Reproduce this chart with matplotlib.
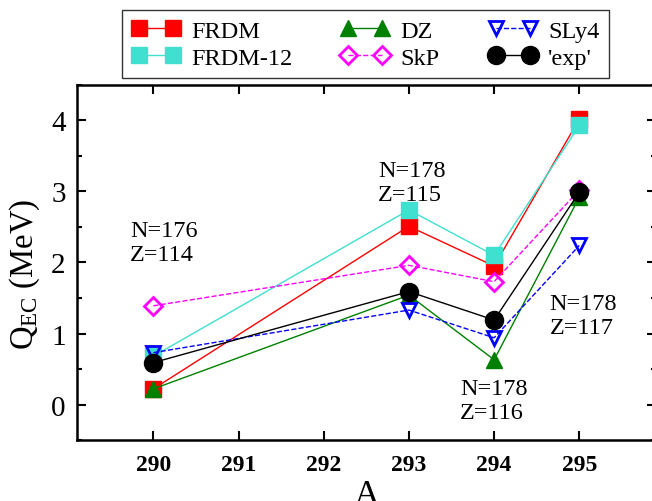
import matplotlib
matplotlib.use("Agg")
import matplotlib.pyplot as plt
from matplotlib.ticker import MultipleLocator

# ------------------------------------------------------------
# data
# ------------------------------------------------------------
mass_A = [290, 293, 294, 295]

q_frdm = [0.22, 2.51, 1.95, 4.02]
q_frdm12 = [0.68, 2.74, 2.10, 3.93]
q_dz = [0.22, 1.54, 0.63, 2.92]
q_skp = [1.39, 1.96, 1.73, 3.02]
q_sly4 = [0.73, 1.33, 0.94, 2.24]
q_exp = [0.59, 1.59, 1.19, 2.99]

x_ticks = [290, 291, 292, 293, 294, 295]
y_ticks = [0, 1, 2, 3, 4]

notes = ["N=176\nZ=114", "N=178\nZ=115", "N=178\nZ=116", "N=178\nZ=117"]
note_xy = [(289.73, 2.60), (292.64, 3.45), (293.6, 0.38), (294.65, 1.57)]

# ------------------------------------------------------------
# style
# ------------------------------------------------------------
plt.rcParams.update({
    'font.family': ['Liberation Serif', 'DejaVu Serif'],
    'mathtext.fontset': 'custom',
    'mathtext.rm': 'Liberation Serif',
    'mathtext.it': 'Liberation Serif:italic',
})

fig = plt.figure(figsize=(6.52, 5.02), dpi=100)
ax = fig.add_axes([0.1176, 0.1215, 0.8885, 0.7072])

series = [
    (q_frdm, 'FRDM', dict(color='red', marker='s', ms=11.5, linestyle='-')),
    (q_frdm12, 'FRDM-12', dict(color='#40e0d0', marker='s', ms=11.5, linestyle='-')),
    (q_dz, 'DZ', dict(color='green', marker='^', ms=12, linestyle='-')),
    (q_skp, 'SkP', dict(color='magenta', marker='D', ms=9, mfc='none', mew=2, linestyle='--')),
    (q_sly4, 'SLy4', dict(color='blue', marker='v', ms=10, mfc='none', mew=2, linestyle='--')),
    (q_exp, "'exp'", dict(color='black', marker='o', ms=13, linestyle='-')),
]

for vals, name, kw in series:
    ax.plot(mass_A, vals, lw=1.0, label=name, **kw)

for txt, (tx, ty) in zip(notes, note_xy):
    ax.text(tx, ty, txt, fontsize=17.5, linespacing=1.2, ha='left', va='top')

ax.set_xlim(289.1, 295.9)
ax.set_ylim(-0.5, 4.5)
ax.set_xticks(x_ticks)
ax.set_yticks(y_ticks)
ax.yaxis.set_minor_locator(MultipleLocator(0.5))

ax.tick_params(axis='x', which='major', direction='in', top=True, length=6.5, width=1.5,
               labelsize=17, pad=10)
ax.tick_params(axis='y', which='major', direction='in', right=True, length=6.5, width=1.5,
               labelsize=21, pad=8)
ax.tick_params(axis='y', which='minor', direction='in', right=True, length=3.6, width=1.5)
for lab in ax.get_xticklabels():
    lab.set_fontweight('bold')

for sp in ax.spines.values():
    sp.set_linewidth(1.8)

ax.set_xlabel('A', fontsize=26, labelpad=3)
ax.set_ylabel(r'Q$_{\rm EC}$ (MeV)', fontsize=23.5, labelpad=2)
ax.yaxis.set_label_coords(-0.06, 0.47)

leg = fig.legend(loc='upper left', bbox_to_anchor=(122 / 652, 1 - 11 / 502),
                 ncol=3, numpoints=2, fontsize=17.5, handlelength=2.0,
                 handletextpad=0.45, columnspacing=2.0, labelspacing=0.2,
                 borderpad=0.4, borderaxespad=0, frameon=True, fancybox=False)
leg.get_frame().set_edgecolor('black')
leg.get_frame().set_linewidth(1.0)

fig.savefig('out.png', dpi=100, facecolor='white')
